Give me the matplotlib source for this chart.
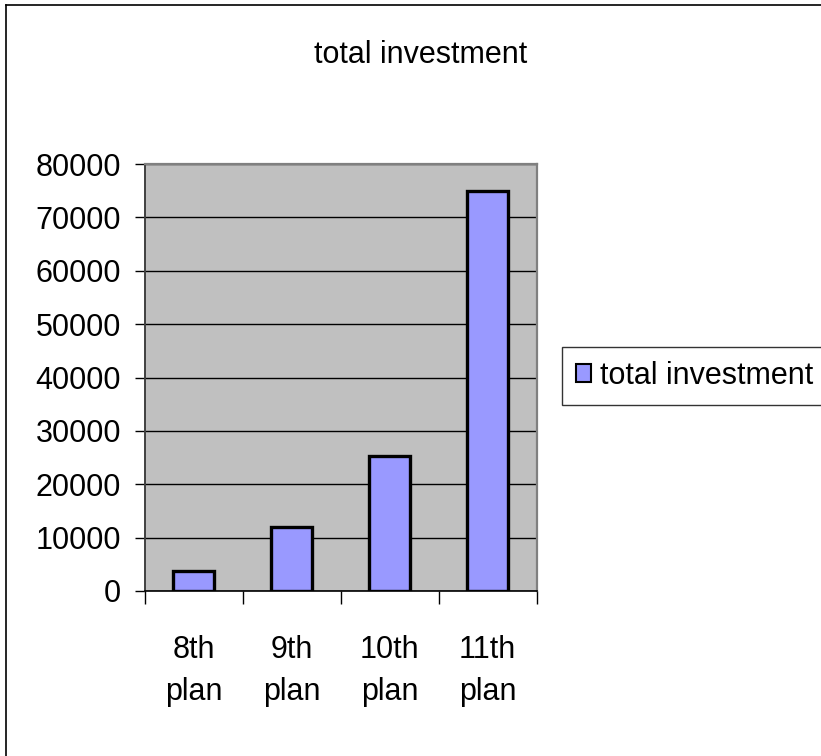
import matplotlib
matplotlib.use("Agg")
import matplotlib.pyplot as plt
from matplotlib.lines import Line2D

categories = ["8th\nplan", "9th\nplan", "10th\nplan", "11th\nplan"]
investment = [3800, 12000, 25200, 75000]
series_name = "total investment"
y_ticks = [0, 10000, 20000, 30000, 40000, 50000, 60000, 70000, 80000]

plt.rcParams["font.family"] = ["Liberation Sans", "DejaVu Sans"]
FS = 22

W, H = 821, 756
fig = plt.figure(figsize=(W / 100, H / 100), dpi=100)

# outer chart border (left and top edges visible in the frame)
fig.add_artist(Line2D([6 / W, 6 / W], [0, 1 - 5 / H], color="black", lw=1.2, transform=fig.transFigure))
fig.add_artist(Line2D([6 / W, 1], [1 - 5 / H, 1 - 5 / H], color="black", lw=1.2, transform=fig.transFigure))

left, right, top, bottom = 144.5, 536.5, 164, 591
ax = fig.add_axes([left / W, 1 - bottom / H, (right - left) / W, (bottom - top) / H])
ax.set_facecolor("#C0C0C0")

x = list(range(len(categories)))
ax.bar(x, investment, width=0.41, color="#9999FF", edgecolor="black", linewidth=2.4,
       zorder=3, label=series_name)

ax.set_xlim(-0.5, len(categories) - 0.5)
ax.set_ylim(0, 80000)
ax.set_yticks(y_ticks)
ax.set_yticklabels([str(v) for v in y_ticks], fontsize=FS)
ax.yaxis.grid(True, color="black", linewidth=1.0, zorder=1)
ax.set_axisbelow(True)

# category labels centred under bars, tick marks on category boundaries
ax.set_xticks(x)
ax.set_xticklabels(categories, fontsize=FS, linespacing=1.5)
ax.tick_params(axis="x", which="major", length=0, pad=32)
ax.set_xticks([i - 0.5 for i in range(len(categories) + 1)], minor=True)
ax.tick_params(axis="x", which="minor", length=9, width=1.0, direction="out", color="black")
ax.tick_params(axis="y", length=7, width=1.0, direction="out", color="black", pad=10)

for s in ("top", "right"):
    ax.spines[s].set_color("#808080")
    ax.spines[s].set_linewidth(1.6)
ax.spines["left"].set_color("#404040")
ax.spines["left"].set_linewidth(1.4)
ax.spines["bottom"].set_color("black")
ax.spines["bottom"].set_linewidth(1.2)

fig.text(421 / W, 1 - 63 / H, "total investment", fontsize=FS, ha="center", va="baseline")

leg = fig.legend(loc="center left", bbox_to_anchor=(562 / W, 1 - 376 / H), fontsize=FS,
                 frameon=True, fancybox=False, edgecolor="black", handlelength=0.5,
                 handleheight=0.5, handletextpad=0.3, borderpad=0.45, borderaxespad=0)
leg.get_frame().set_linewidth(1.0)
for h in leg.legend_handles:
    h.set_linewidth(1.5)

fig.savefig("out.png", dpi=100)
